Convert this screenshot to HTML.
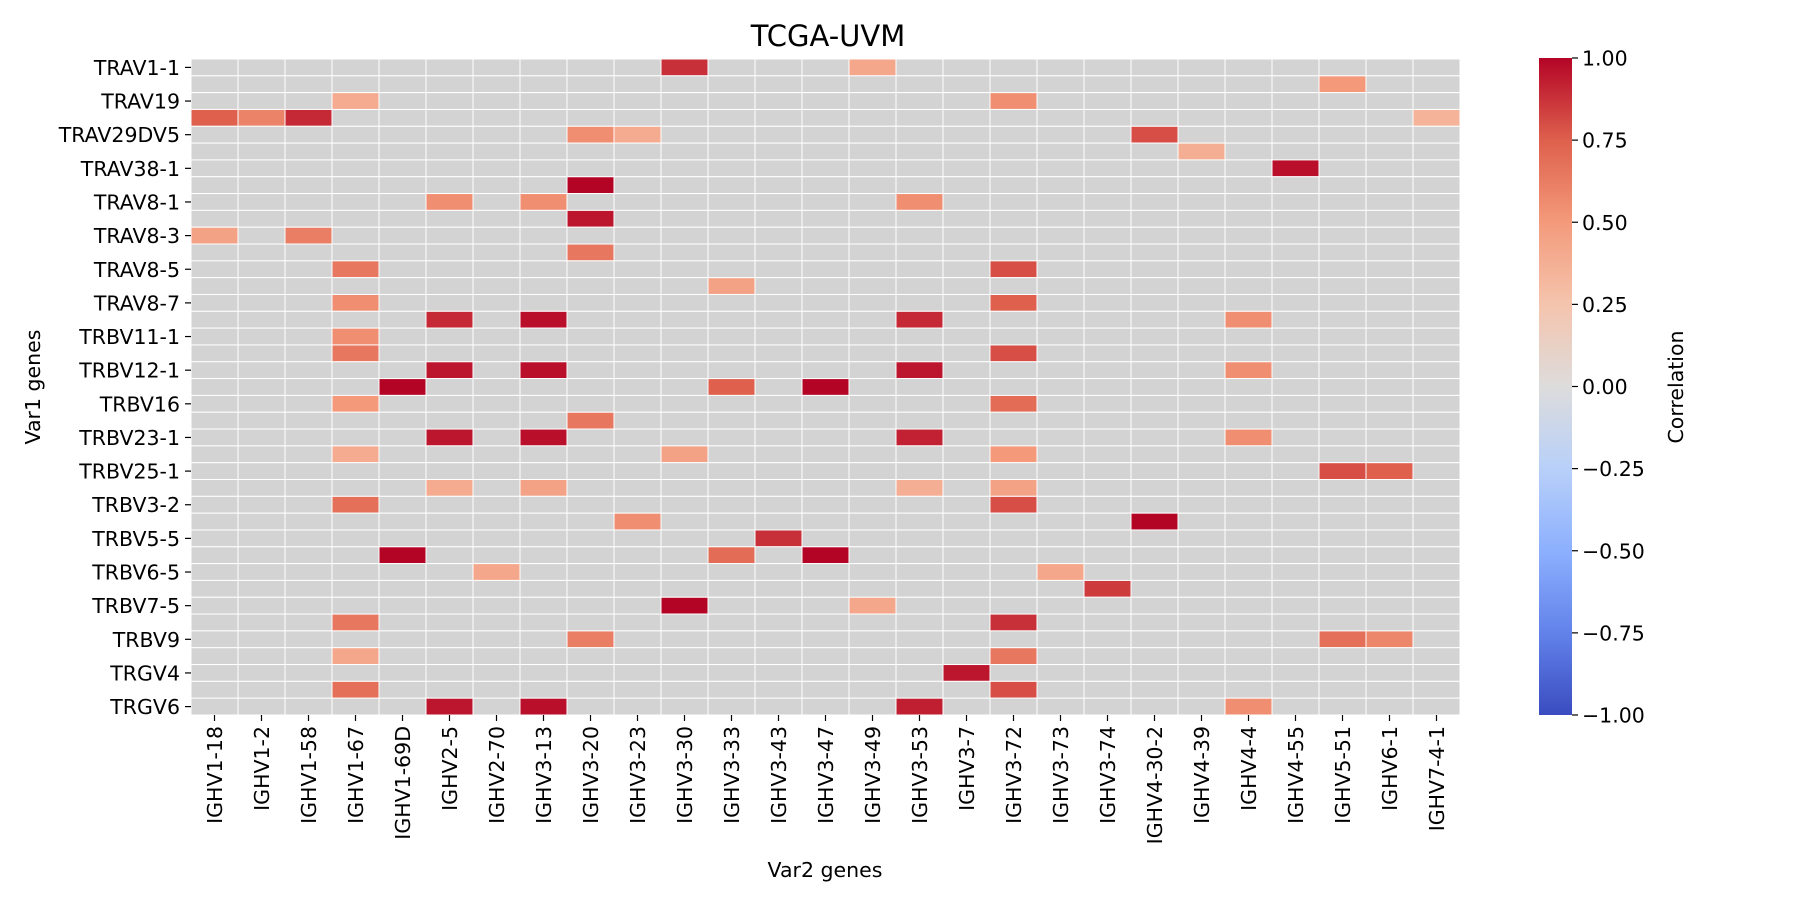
<!DOCTYPE html>
<html><head><meta charset="utf-8"><style>
html,body{margin:0;padding:0;background:#fff;}
svg text{font-family:"DejaVu Sans","Liberation Sans",sans-serif;fill:#000;}
</style></head><body>
<svg id="chart" width="1800" height="900" xmlns="http://www.w3.org/2000/svg">
<defs><linearGradient id="cbgrad" x1="0" y1="1" x2="0" y2="0">
<stop offset="0" stop-color="rgb(58,76,192)"/><stop offset="0.125" stop-color="rgb(98,130,234)"/>
<stop offset="0.25" stop-color="rgb(141,176,254)"/><stop offset="0.375" stop-color="rgb(184,208,249)"/>
<stop offset="0.5" stop-color="rgb(221,220,220)"/><stop offset="0.625" stop-color="rgb(245,196,173)"/>
<stop offset="0.75" stop-color="rgb(244,154,123)"/><stop offset="0.875" stop-color="rgb(222,96,77)"/>
<stop offset="1" stop-color="rgb(180,4,38)"/></linearGradient></defs>
<text x="828" y="46" font-size="29" text-anchor="middle">TCGA-UVM</text>
<g id="cells"></g><g id="xt"></g><g id="yt"></g>
<text x="825" y="877" font-size="20.5" text-anchor="middle">Var2 genes</text>
<text transform="translate(40,387) rotate(-90)" font-size="20.5" text-anchor="middle">Var1 genes</text>
<rect x="1539" y="58" width="33" height="657" fill="url(#cbgrad)"/>
<g id="cbt"></g>
<text transform="translate(1683,387) rotate(-90)" font-size="20.5" text-anchor="middle">Correlation</text>
</svg>
<script>
const colLabels=["IGHV1-18","IGHV1-2","IGHV1-58","IGHV1-67","IGHV1-69D","IGHV2-5","IGHV2-70","IGHV3-13","IGHV3-20","IGHV3-23","IGHV3-30","IGHV3-33","IGHV3-43","IGHV3-47","IGHV3-49","IGHV3-53","IGHV3-7","IGHV3-72","IGHV3-73","IGHV3-74","IGHV4-30-2","IGHV4-39","IGHV4-4","IGHV4-55","IGHV5-51","IGHV6-1","IGHV7-4-1"];
const rowTickLabels=["TRAV1-1","TRAV19","TRAV29DV5","TRAV38-1","TRAV8-1","TRAV8-3","TRAV8-5","TRAV8-7","TRBV11-1","TRBV12-1","TRBV16","TRBV23-1","TRBV25-1","TRBV3-2","TRBV5-5","TRBV6-5","TRBV7-5","TRBV9","TRGV4","TRGV6"];
const nRows=39;
const cellRows=[0,0,1,2,2,3,3,3,3,4,4,4,5,6,7,8,8,8,9,10,10,11,12,12,13,14,14,15,15,15,15,16,17,17,18,18,18,18,19,19,19,20,20,21,22,22,22,22,23,23,23,24,24,25,25,25,25,26,26,27,27,28,29,29,29,30,30,31,32,32,33,33,34,34,34,35,35,36,37,37,38,38,38,38];
const cellCols=[10,14,24,3,17,0,1,2,26,8,9,20,21,23,8,5,7,15,8,0,2,8,3,17,11,3,17,5,7,15,22,3,3,17,5,7,15,22,4,11,13,3,17,8,5,7,15,22,3,10,17,24,25,5,7,15,17,3,17,9,20,12,4,11,13,6,18,19,10,14,3,17,8,24,25,3,17,16,3,17,5,7,15,22];
const cellVals=[0.88,0.42,0.5,0.4,0.55,0.75,0.6,0.9,0.35,0.55,0.4,0.8,0.38,0.97,1.0,0.55,0.55,0.55,0.95,0.45,0.62,0.65,0.65,0.8,0.45,0.55,0.75,0.9,0.97,0.9,0.55,0.55,0.65,0.8,0.95,0.97,0.95,0.55,1.0,0.75,1.0,0.5,0.7,0.65,0.95,0.97,0.92,0.55,0.4,0.45,0.5,0.8,0.75,0.4,0.45,0.38,0.45,0.68,0.8,0.55,1.0,0.88,1.0,0.7,1.0,0.42,0.42,0.85,1.0,0.42,0.65,0.88,0.62,0.68,0.58,0.42,0.65,0.95,0.68,0.8,0.95,0.97,0.93,0.55];
const cbTicks=[-1,-0.75,-0.5,-0.25,0,0.25,0.5,0.75,1];
const cbLabels=["\u22121.00","\u22120.75","\u22120.50","\u22120.25","0.00","0.25","0.50","0.75","1.00"];
const L=191,T=59,W=1269,H=656,CB0=58,CBH=657;
const cw=W/colLabels.length, rh=H/nRows;
const xs=c=>L+c*cw, ys=r=>T+r*rh;
const cmap=[[58,76,192],[98,130,234],[141,176,254],[184,208,249],[221,220,220],[245,196,173],[244,154,123],[222,96,77],[180,4,38]];
function color(v){let t=(v+1)/2*8;let i=Math.min(7,Math.floor(t));let f=t-i;const a=cmap[i],b=cmap[i+1];return `rgb(${a.map((x,k)=>Math.round(x+(b[k]-x)*f)).join(',')})`;}
const NS="http://www.w3.org/2000/svg";
function mk(tag,attrs,parent){const e=document.createElementNS(NS,tag);for(const k in attrs)e.setAttribute(k,attrs[k]);parent.appendChild(e);return e;}
const cells=document.getElementById('cells');
const bg=mk('rect',{x:L,y:T,width:W,height:H,fill:'#d3d3d3'},cells);


const grid=new Map();
cellRows.forEach((r,i)=>grid.set(r+'_'+cellCols[i],cellVals[i]));
for(let r=0;r<nRows;r++)for(let c=0;c<colLabels.length;c++){
 const v=grid.get(r+'_'+c);
 const e=mk('rect',{x:xs(c),y:ys(r),width:cw,height:rh,fill:v===undefined?'#d3d3d3':color(v),stroke:'#fff','stroke-width':1},cells);
 
 
}
const xt=document.getElementById('xt');
colLabels.forEach((lab,c)=>{const x=xs(c)+cw/2;
 const tk=mk('line',{x1:x,x2:x,y1:T+H,y2:T+H+6,stroke:'#000','stroke-width':1.2},xt);
 
 
 const t=mk('text',{transform:`translate(${x+7.5},${T+H+11}) rotate(-90)`,'font-size':20.5,'text-anchor':'end'},xt);
 t.textContent=lab;
 
 
});
const yt=document.getElementById('yt');
rowTickLabels.forEach((lab,i)=>{const y=ys(i*2)+rh/2;
 const tk=mk('line',{x1:L-6,x2:L,y1:y,y2:y,stroke:'#000','stroke-width':1.2},yt);
 
 
 const t=mk('text',{x:L-11,y:y+7.5,'font-size':20.5,'text-anchor':'end'},yt);
 t.textContent=lab;
 
 
});
const cbt=document.getElementById('cbt');
cbTicks.forEach((v,i)=>{const y=CB0+CBH*(1-(v+1)/2);
 const tk=mk('line',{x1:1572,x2:1578,y1:y,y2:y,stroke:'#000','stroke-width':1.2},cbt);
 
 
 const t=mk('text',{x:1582,y:y+7.5,'font-size':20.5},cbt);
 t.textContent=cbLabels[i];
 
 
});
</script>
</body></html>
